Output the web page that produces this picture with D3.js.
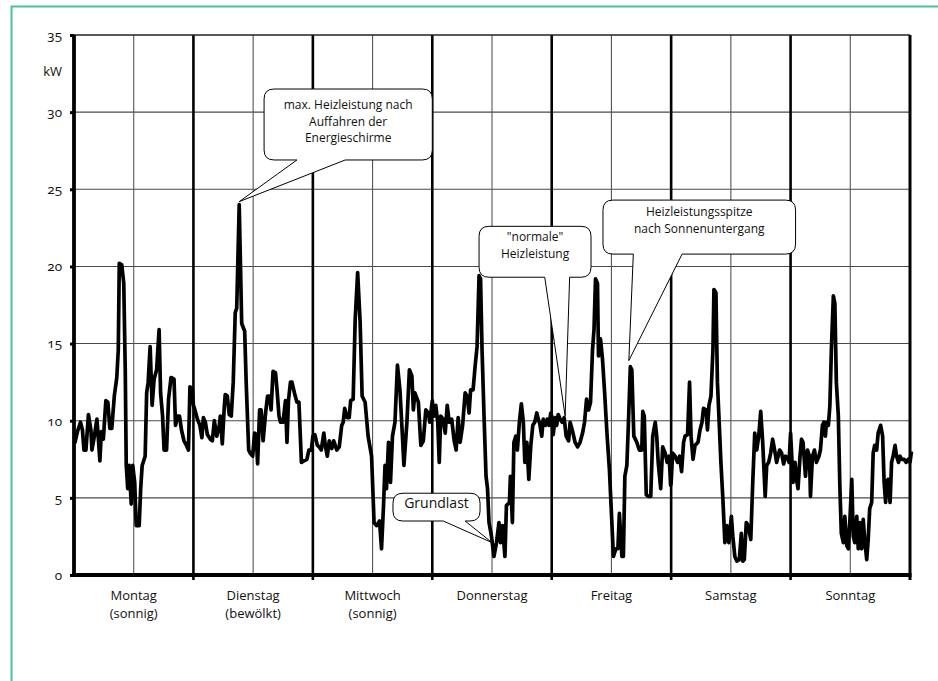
<!DOCTYPE html>
<html>
<head>
<meta charset="utf-8">
<script src="https://cdn.jsdelivr.net/npm/d3@7/dist/d3.min.js"></script>
<style>
  body { margin: 0; background: #fff; }
  text { font-family: 'Open Sans', sans-serif; fill: #111; }
  .ytick text { font-feature-settings: 'onum' 1; }
</style>
</head>
<body>
<div id="chart-1"></div>
<script>
// day names under the x axis
let days = ['Montag', 'Dienstag', 'Mittwoch', 'Donnerstag', 'Freitag', 'Samstag', 'Sonntag']
let daySub = ['(sonnig)', '(bewölkt)', '(sonnig)', '', '', '', '']

let yTicks = [0, 5, 10, 15, 20, 25, 30, 35]

// heating power per day: [hour of day, kW]
let montag = [[0, 8.7], [0.2, 8.6], [0.7, 9.3], [1.3, 9.9], [1.7, 9.4], [2.0, 8.1], [2.4, 8.1], [2.9, 10.4], [3.4, 9.4], [3.6, 8.1], [4.1, 9.0], [4.6, 10.1], [4.8, 9.3], [5.2, 7.4], [5.5, 9.3], [5.9, 8.8], [6.4, 11.3], [6.8, 11.2], [7.2, 9.5], [7.6, 9.5], [8.1, 11.6], [8.6, 12.8], [8.9, 14.6], [9.1, 20.2], [9.6, 20.1], [10.0, 18.9], [10.3, 13.3], [10.5, 7.1], [10.8, 5.6], [11.1, 7.1], [11.5, 4.6], [11.8, 7.1], [12.2, 6.0], [12.5, 3.2], [13.1, 3.2], [13.4, 5.6], [13.7, 7.1], [14.3, 7.7], [14.6, 11.8], [14.9, 12.5], [15.3, 14.8], [15.7, 11.0], [16.1, 12.7], [16.6, 13.3], [17.1, 15.9], [17.4, 11.8], [17.8, 10.3], [18.1, 8.1], [18.6, 8.1], [19.0, 11.4], [19.5, 12.8], [20.1, 12.7], [20.4, 9.7], [20.8, 10.3], [21.2, 10.3], [21.6, 9.4], [22.1, 8.7], [22.6, 8.4], [23.0, 8.1], [23.3, 12.2], [23.8, 12.0]]
let dienstag = [[0, 11.0], [0.3, 10.7], [0.8, 10.1], [1.3, 9.7], [1.7, 8.9], [2.0, 10.2], [2.4, 9.9], [2.8, 9.1], [3.4, 8.8], [3.8, 8.7], [4.2, 10.0], [4.7, 9.0], [5.2, 9.7], [5.4, 10.3], [5.8, 8.5], [6.2, 10.9], [6.4, 11.7], [6.8, 11.6], [7.2, 10.4], [7.6, 10.3], [8.0, 12.5], [8.4, 17.0], [8.7, 17.3], [9.2, 24.0], [9.7, 16.3], [10.3, 15.8], [10.6, 12.5], [11.1, 8.1], [11.4, 7.9], [11.9, 7.7], [12.3, 9.2], [12.6, 9.1], [12.9, 7.2], [13.3, 10.7], [13.6, 10.7], [14.0, 8.7], [14.5, 10.5], [14.9, 11.6], [15.3, 11.6], [15.6, 10.7], [16.0, 13.2], [16.5, 13.1], [16.8, 12.0], [17.2, 10.3], [17.5, 9.9], [18.0, 9.9], [18.5, 11.3], [18.8, 8.6], [19.1, 11.3], [19.5, 12.5], [19.8, 12.5], [20.3, 11.8], [20.8, 11.2], [21.2, 11.2], [21.7, 7.3], [22.2, 7.4], [22.8, 7.5], [23.2, 8.1], [23.7, 8.1]]
let mittwoch = [[0, 9.0], [0.4, 9.1], [0.9, 8.4], [1.3, 8.3], [1.7, 8.1], [2.2, 9.2], [2.5, 8.4], [2.9, 7.7], [3.3, 8.7], [3.8, 8.2], [4.2, 8.7], [4.8, 8.1], [5.3, 8.3], [5.8, 9.7], [6.1, 9.9], [6.4, 10.8], [6.9, 10.2], [7.3, 10.2], [7.6, 11.3], [8.1, 11.4], [8.5, 16.5], [9.0, 19.6], [9.5, 16.4], [9.9, 11.6], [10.5, 11.2], [11.1, 9.0], [11.8, 7.7], [12.3, 3.4], [12.8, 3.2], [13.4, 3.5], [13.8, 1.7], [14.2, 4.5], [14.5, 7.1], [14.8, 5.6], [15.2, 8.6], [15.6, 6.0], [16.0, 9.0], [16.5, 9.9], [17.0, 13.6], [17.5, 12.0], [18.0, 9.0], [18.3, 7.1], [18.9, 9.9], [19.4, 13.3], [19.9, 12.9], [20.2, 10.7], [20.5, 11.8], [21.2, 11.2], [21.7, 8.4], [22.2, 8.7], [22.7, 10.7], [23.2, 10.5], [23.5, 9.9]]
let donnerstag = [[0, 11.3], [0.3, 10.3], [0.7, 11.0], [1.1, 9.9], [1.4, 7.3], [1.7, 10.3], [2.2, 10.1], [2.6, 9.2], [3.0, 11.0], [3.4, 9.9], [3.9, 10.1], [4.4, 8.7], [4.8, 8.1], [5.2, 10.2], [5.6, 8.6], [6.1, 9.7], [6.6, 11.8], [7.0, 11.6], [7.4, 10.5], [7.7, 12.0], [8.2, 12.0], [8.6, 13.5], [9.0, 14.8], [9.4, 19.4], [9.7, 19.2], [10.0, 14.6], [10.4, 10.3], [10.8, 6.4], [11.1, 5.6], [11.4, 3.4], [11.9, 2.5], [12.4, 1.2], [12.9, 2.1], [13.4, 3.4], [13.7, 2.1], [14.1, 3.2], [14.6, 1.2], [14.9, 4.5], [15.5, 4.7], [15.7, 6.4], [16.1, 3.4], [16.4, 8.6], [16.8, 9.0], [17.1, 8.1], [17.5, 9.9], [17.9, 11.1], [18.3, 9.9], [18.6, 7.3], [19.0, 8.6], [19.4, 6.2], [19.8, 8.4], [20.2, 9.7], [20.6, 9.9], [21.0, 10.5], [21.3, 10.1], [21.6, 9.8], [22.0, 9.0], [22.3, 10.1], [22.8, 9.7], [23.1, 10.1], [23.5, 9.7], [23.8, 10.5]]
let freitag = [[0, 10.3], [0.3, 9.1], [0.7, 10.2], [1.0, 9.7], [1.3, 10.4], [1.7, 10.1], [2.1, 9.9], [2.5, 10.2], [2.9, 9.0], [3.4, 8.7], [3.7, 9.9], [4.2, 9.3], [4.7, 8.6], [5.2, 8.3], [5.7, 8.6], [6.2, 9.2], [6.6, 9.9], [7.0, 11.4], [7.4, 10.7], [7.8, 11.2], [8.2, 14.6], [8.5, 15.9], [8.8, 19.2], [9.2, 18.9], [9.4, 14.2], [9.8, 15.3], [10.2, 14.0], [10.6, 12.0], [11.1, 9.2], [11.6, 6.8], [12.0, 4.0], [12.4, 1.2], [12.9, 1.7], [13.3, 1.7], [13.6, 4.0], [14.1, 1.2], [14.4, 1.2], [14.7, 6.4], [15.1, 7.1], [15.4, 9.7], [15.8, 13.5], [16.1, 13.3], [16.5, 9.0], [17.1, 8.6], [17.6, 8.1], [18.1, 8.1], [18.3, 10.6], [18.6, 10.3], [19.0, 5.2], [19.4, 5.1], [19.9, 5.1], [20.3, 9.0], [20.8, 9.9], [21.1, 9.0], [21.4, 7.3], [21.9, 5.6], [22.3, 8.3], [22.8, 7.9], [23.2, 7.3], [23.6, 7.7], [23.9, 5.8]]
let samstag = [[0, 6.0], [0.3, 7.9], [0.8, 7.7], [1.3, 7.3], [1.7, 7.7], [2.1, 6.7], [2.5, 8.6], [2.8, 9.0], [3.3, 9.1], [3.7, 12.5], [4.0, 9.0], [4.4, 7.5], [4.8, 8.4], [5.4, 8.6], [5.8, 9.4], [6.2, 9.9], [6.5, 10.8], [7.0, 10.7], [7.3, 9.4], [7.6, 11.0], [8.0, 11.6], [8.4, 14.6], [8.6, 18.5], [9.0, 18.3], [9.3, 12.5], [9.6, 10.3], [10.0, 7.3], [10.4, 4.9], [10.8, 2.1], [11.2, 3.2], [11.6, 2.1], [12.1, 3.8], [12.4, 2.5], [12.8, 1.2], [13.2, 0.9], [13.7, 1.0], [14.1, 2.7], [14.4, 0.9], [14.7, 1.0], [15.1, 3.4], [15.5, 3.2], [16.0, 2.3], [16.4, 6.0], [16.8, 9.2], [17.2, 8.1], [17.6, 9.0], [18.0, 10.6], [18.4, 8.6], [18.9, 5.1], [19.2, 7.1], [19.6, 7.3], [20.0, 7.9], [20.4, 8.8], [20.9, 7.9], [21.2, 7.3], [21.8, 8.1], [22.2, 7.9], [22.6, 7.2], [23.0, 7.7], [23.4, 7.6], [23.7, 7.3]]
let sonntag = [[0, 9.2], [0.3, 7.3], [0.5, 6.0], [0.9, 7.3], [1.2, 6.2], [1.5, 5.6], [1.9, 7.7], [2.2, 8.8], [2.5, 8.6], [3.0, 6.4], [3.4, 8.1], [3.8, 7.7], [4.0, 5.1], [4.4, 7.7], [4.8, 8.1], [5.2, 7.3], [5.7, 7.7], [6.0, 8.1], [6.4, 9.7], [6.7, 9.9], [7.0, 9.0], [7.2, 9.9], [7.6, 9.7], [7.9, 11.0], [8.2, 14.6], [8.6, 18.1], [8.9, 17.6], [9.2, 12.5], [9.6, 10.3], [9.9, 5.8], [10.2, 2.7], [10.6, 2.1], [10.9, 3.8], [11.3, 1.9], [11.6, 1.7], [11.9, 3.4], [12.3, 6.2], [12.6, 2.5], [12.9, 2.1], [13.3, 3.8], [13.6, 1.7], [13.9, 3.4], [14.3, 1.7], [14.6, 3.6], [14.9, 2.3], [15.3, 1.0], [15.6, 2.3], [15.9, 4.3], [16.3, 4.7], [16.6, 7.9], [16.9, 8.4], [17.3, 8.1], [17.6, 9.2], [18.1, 9.7], [18.5, 9.0], [18.8, 6.0], [19.1, 4.7], [19.3, 6.0], [19.6, 6.2], [20.0, 4.7], [20.3, 7.3], [20.6, 7.7], [21.0, 8.4], [21.3, 7.7], [21.7, 7.3], [22.0, 7.7], [22.3, 7.5], [22.8, 7.5], [23.2, 7.3], [23.7, 7.5], [24.0, 7.3], [24.3, 8.0]]

let week = [montag, dienstag, mittwoch, donnerstag, freitag, samstag, sonntag]

// callout texts
let noteMax = ['max. Heizleistung nach', 'Auffahren der', 'Energieschirme']
let noteNormal = ['"normale"', 'Heizleistung']
let noteSpitze = ['Heizleistungsspitze', 'nach Sonnenuntergang']
let noteGrund = ['Grundlast']

let margin = { top: 35, left: 74, right: 28, bottom: 106 }
let width = 938 - margin.left - margin.right
let height = 681 - margin.top - margin.bottom

let root = d3
  .select('#chart-1')
  .append('svg')
  .attr('width', 938)
  .attr('height', 681)

// green frame (only top and left edges show)
root
  .append('rect')
  .attr('x', 11.5)
  .attr('y', 6.5)
  .attr('width', 960)
  .attr('height', 700)
  .attr('fill', 'none')
  .attr('stroke', '#4cc192')
  .attr('stroke-width', 2)

let svg = root
  .append('g')
  .attr('transform', 'translate(' + margin.left + ',' + margin.top + ')')

let xScale = d3.scaleLinear().domain([0, 168]).range([0, width])
let yScale = d3.scaleLinear().domain([0, 35]).range([height, 0])

// horizontal grid
svg
  .append('g')
  .selectAll('.hgrid')
  .data(yTicks.filter(d => d > 0 && d < 35))
  .enter()
  .append('line')
  .attr('x1', 0)
  .attr('x2', width)
  .attr('y1', d => yScale(d))
  .attr('y2', d => yScale(d))
  .attr('stroke', '#4a4a4a')
  .attr('stroke-width', 1.1)

// half day lines (thin) and day lines (thick)
let halfDays = d3.range(7).map(i => i * 24 + 12)
let dayLines = d3.range(1, 7).map(i => i * 24)

svg
  .append('g')
  .selectAll('.half')
  .data(halfDays)
  .enter()
  .append('line')
  .attr('x1', d => xScale(d))
  .attr('x2', d => xScale(d))
  .attr('y1', 0)
  .attr('y2', height)
  .attr('stroke', '#555')
  .attr('stroke-width', 1.1)

svg
  .append('g')
  .selectAll('.dayline')
  .data(dayLines)
  .enter()
  .append('line')
  .attr('x1', d => xScale(d))
  .attr('x2', d => xScale(d))
  .attr('y1', 0)
  .attr('y2', height + 5)
  .attr('stroke', '#000')
  .attr('stroke-width', 2.6)

// top and right border of the plot
svg
  .append('line')
  .attr('x1', 0)
  .attr('x2', width)
  .attr('y1', 0)
  .attr('y2', 0)
  .attr('stroke', '#222')
  .attr('stroke-width', 1.3)

svg
  .append('line')
  .attr('x1', width)
  .attr('x2', width)
  .attr('y1', 0)
  .attr('y2', height + 5)
  .attr('stroke', '#000')
  .attr('stroke-width', 3)

// the weekly curve
let series = week.flatMap((day, i) => day.map(([h, v]) => [i * 24 + h, v]))

let line = d3
  .line()
  .x(d => xScale(d[0]))
  .y(d => yScale(d[1]))

svg
  .append('path')
  .datum(series)
  .attr('d', line)
  .attr('fill', 'none')
  .attr('stroke', '#000')
  .attr('stroke-width', 3.7)
  .attr('stroke-linejoin', 'round')

// y axis
let yAxis = d3
  .axisLeft(yScale)
  .tickValues(yTicks)
  .tickSize(4)
  .tickPadding(8)
  .tickFormat(d3.format('d'))

let yAxisG = svg
  .append('g')
  .attr('class', 'ytick')
  .call(yAxis)
yAxisG.select('.domain').remove()
yAxisG.selectAll('line').attr('stroke', '#000').attr('stroke-width', 3)
yAxisG.selectAll('text').attr('font-size', 13.5).attr('fill', '#111')

svg
  .append('text')
  .attr('x', -12)
  .attr('y', yScale(32.6))
  .attr('text-anchor', 'end')
  .attr('dominant-baseline', 'middle')
  .attr('font-size', 13)
  .text('kW')

// thick left and bottom axis lines
svg
  .append('line')
  .attr('x1', 0)
  .attr('x2', 0)
  .attr('y1', 0)
  .attr('y2', height + 2)
  .attr('stroke', '#000')
  .attr('stroke-width', 3.8)

svg
  .append('line')
  .attr('x1', -2)
  .attr('x2', width + 1.5)
  .attr('y1', height)
  .attr('y2', height)
  .attr('stroke', '#000')
  .attr('stroke-width', 3.8)

// day labels, two separate rows
svg
  .append('g')
  .selectAll('.day')
  .data(days)
  .enter()
  .append('text')
  .attr('class', 'day')
  .attr('text-anchor', 'middle')
  .attr('font-size', 13)
  .attr('x', (d, i) => xScale(i * 24 + 12))
  .attr('y', height + 25)
  .text(d => d)

svg
  .append('g')
  .selectAll('.daysub')
  .data(daySub.filter(d => d !== ''))
  .enter()
  .append('text')
  .attr('class', 'daysub')
  .attr('text-anchor', 'middle')
  .attr('font-size', 13)
  .attr('x', (d, i) => xScale(i * 24 + 12))
  .attr('y', height + 43)
  .text(d => d)

// callouts: box and tip given in chart units (hour of week, kW)
let notes = [
  { text: noteMax, box: [38.2, 31.5, 72.0, 26.9], base: [44.8, 54.5], tip: [33.2, 24.2], size: 12, off: 20 },
  { text: noteNormal, box: [81.4, 22.6, 103.9, 19.3], base: [94.6, 99.6], tip: [98.7, 10.3], size: 12, off: 15 },
  { text: noteSpitze, box: [106.3, 24.3, 145.0, 20.8], base: [112.4, 122.2], tip: [111.5, 13.9], size: 12, off: 16 },
  { text: noteGrund, box: [64.1, 5.3, 81.6, 3.5], base: [74.2, 78.6], tip: [84.0, 2.1], size: 14, off: 15 }
]
let noteLineGap = 16.5

function calloutPath(n) {
  let x0 = xScale(n.box[0])
  let y0 = yScale(n.box[1])
  let x1 = xScale(n.box[2])
  let y1 = yScale(n.box[3])
  let r = 10
  let b0 = xScale(n.base[0])
  let b1 = xScale(n.base[1])
  let tx = xScale(n.tip[0])
  let ty = yScale(n.tip[1])
  let p = d3.path()
  p.moveTo(x0 + r, y0)
  p.lineTo(x1 - r, y0)
  p.quadraticCurveTo(x1, y0, x1, y0 + r)
  p.lineTo(x1, y1 - r)
  p.quadraticCurveTo(x1, y1, x1 - r, y1)
  p.lineTo(b1, y1)
  p.lineTo(tx, ty)
  p.lineTo(b0, y1)
  p.lineTo(x0 + r, y1)
  p.quadraticCurveTo(x0, y1, x0, y1 - r)
  p.lineTo(x0, y0 + r)
  p.quadraticCurveTo(x0, y0, x0 + r, y0)
  p.closePath()
  return p.toString()
}

let noteG = svg
  .append('g')
  .selectAll('.note')
  .data(notes)
  .enter()
  .append('g')
  .attr('class', 'note')

noteG
  .append('path')
  .attr('d', calloutPath)
  .attr('fill', '#fff')
  .attr('stroke', '#000')
  .attr('stroke-width', 1)

// one text element per callout line
noteG.each(function(n) {
  let cx = (xScale(n.box[0]) + xScale(n.box[2])) / 2
  let top = yScale(n.box[1])
  d3.select(this)
    .selectAll('text')
    .data(n.text)
    .enter()
    .append('text')
    .attr('text-anchor', 'middle')
    .attr('font-size', n.size)
    .attr('x', cx)
    .attr('y', (d, i) => top + n.off + i * noteLineGap)
    .text(d => d)
})
</script>
</body>
</html>
